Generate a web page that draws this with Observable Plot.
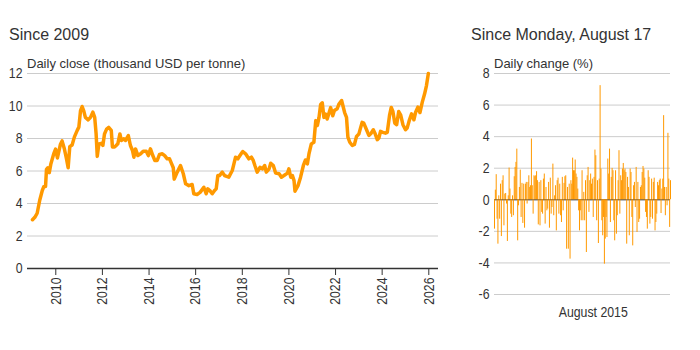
<!DOCTYPE html>
<html>
<head>
<meta charset="utf-8">
<script src="https://cdn.jsdelivr.net/npm/d3@7"></script>
<script src="https://cdn.jsdelivr.net/npm/@observablehq/plot@0.6"></script>
<style>
  html, body { margin: 0; padding: 0; background: #fff; }
  #wrap { position: relative; width: 700px; height: 350px; overflow: hidden; font-family: "Liberation Sans", Arial, sans-serif; color: #333; }
  .title { position: absolute; font-size: 16px; line-height: 16px; white-space: nowrap; }
  .sub { position: absolute; font-size: 13px; line-height: 13px; white-space: nowrap; }
  .panel { position: absolute; }
</style>
</head>
<body>
<div id="wrap">
  <div class="title" style="left:9px; top:27px;">Since 2009</div>
  <div class="title" style="left:471px; top:27px;">Since Monday, August 17</div>
  <div class="sub" style="left:27px; top:57px;">Daily close (thousand USD per tonne)</div>
  <div class="sub" style="left:494px; top:57px;">Daily change (%)</div>
  <div class="panel" id="left" style="left:0px; top:66px;"></div>
  <div class="panel" id="right" style="left:440px; top:66px;"></div>
</div>
<script>
// ---- Left panel: daily close (thousand USD per tonne), decimal year ----
const closeYears = [
  2009.00, 2009.10, 2009.20, 2009.31, 2009.42, 2009.49, 2009.56, 2009.60, 2009.66, 2009.72,
  2009.79, 2009.91, 2009.99, 2010.07, 2010.20, 2010.27, 2010.37, 2010.46, 2010.53, 2010.60,
  2010.70, 2010.80, 2010.92, 2010.99, 2011.06, 2011.13, 2011.20, 2011.27, 2011.39, 2011.49,
  2011.59, 2011.67, 2011.73, 2011.78, 2011.85, 2011.95, 2012.02, 2012.09, 2012.18, 2012.27,
  2012.38, 2012.43, 2012.52, 2012.59, 2012.66, 2012.75, 2012.81, 2012.92, 2012.99, 2013.11,
  2013.20, 2013.29, 2013.35, 2013.42, 2013.52, 2013.64, 2013.75, 2013.88, 2013.97, 2014.06,
  2014.16, 2014.25, 2014.35, 2014.45, 2014.57, 2014.67, 2014.78, 2014.88, 2014.97, 2015.04,
  2015.08, 2015.21, 2015.35, 2015.47, 2015.57, 2015.71, 2015.85, 2015.92, 2016.06, 2016.20,
  2016.35, 2016.45, 2016.52, 2016.63, 2016.71, 2016.81, 2016.88, 2016.95, 2017.02, 2017.14,
  2017.24, 2017.42, 2017.57, 2017.64, 2017.71, 2017.81, 2017.85, 2017.95, 2018.02, 2018.14,
  2018.28, 2018.39, 2018.47, 2018.54, 2018.64, 2018.76, 2018.86, 2018.96, 2019.03, 2019.15,
  2019.22, 2019.33, 2019.43, 2019.58, 2019.68, 2019.79, 2019.94, 2020.00, 2020.08, 2020.15,
  2020.22, 2020.26, 2020.39, 2020.50, 2020.62, 2020.71, 2020.79, 2020.86, 2020.96, 2021.07,
  2021.15, 2021.22, 2021.29, 2021.36, 2021.43, 2021.50, 2021.57, 2021.64, 2021.79, 2021.88,
  2021.95, 2022.07, 2022.14, 2022.26, 2022.39, 2022.47, 2022.53, 2022.61, 2022.72, 2022.81,
  2022.90, 2023.00, 2023.07, 2023.14, 2023.21, 2023.33, 2023.43, 2023.53, 2023.62, 2023.69,
  2023.79, 2023.86, 2023.93, 2024.03, 2024.14, 2024.22, 2024.32, 2024.39, 2024.46, 2024.54,
  2024.62, 2024.71, 2024.79, 2024.89, 2025.00, 2025.07, 2025.17, 2025.26, 2025.36, 2025.43,
  2025.53, 2025.62, 2025.72, 2025.82, 2025.90, 2025.98
];
const closeValues = [
  3.00, 3.15, 3.40, 4.20, 4.80, 5.05, 5.05, 6.10, 6.20, 5.90,
  6.45, 7.05, 7.35, 6.80, 7.65, 7.85, 7.35, 6.75, 6.20, 7.50,
  7.60, 8.10, 8.50, 8.70, 9.70, 9.97, 9.70, 9.30, 9.15, 9.30,
  9.62, 9.30, 8.30, 6.90, 7.67, 7.70, 7.57, 8.28, 8.58, 8.68,
  8.50, 7.48, 7.48, 7.57, 7.67, 8.28, 7.88, 7.98, 7.88, 8.18,
  7.57, 7.26, 6.85, 7.36, 6.95, 7.06, 7.22, 7.22, 6.95, 7.36,
  6.95, 6.65, 6.65, 7.02, 7.06, 6.95, 6.75, 6.75, 6.44, 6.20,
  5.50, 5.93, 6.34, 5.83, 5.21, 5.10, 5.17, 4.60, 4.55, 4.70,
  5.00, 4.60, 4.90, 4.76, 4.60, 4.80, 4.90, 5.72, 5.72, 5.93,
  5.72, 5.62, 6.03, 6.44, 6.85, 6.75, 6.85, 7.06, 7.20, 7.06,
  6.75, 6.85, 6.65, 6.34, 5.93, 6.23, 6.13, 6.34, 5.93, 6.13,
  6.48, 6.34, 5.87, 5.83, 5.62, 5.72, 5.87, 6.13, 5.62, 5.72,
  5.41, 4.76, 5.10, 5.62, 6.34, 6.68, 6.44, 7.06, 7.67, 7.77,
  9.10, 8.80, 9.30, 10.10, 10.20, 9.30, 9.50, 9.20, 9.90, 9.40,
  9.72, 9.83, 10.10, 10.34, 9.60, 9.30, 8.08, 7.77, 7.57, 7.63,
  8.13, 8.27, 8.64, 8.99, 8.95, 8.54, 8.19, 8.33, 8.54, 8.33,
  7.93, 8.03, 8.44, 8.38, 8.33, 8.38, 9.46, 9.91, 9.66, 8.95,
  8.85, 9.66, 9.46, 8.85, 8.54, 8.64, 9.15, 9.52, 9.15, 9.60,
  9.93, 9.60, 10.24, 10.75, 11.26, 12.00
];
const closeYTicks = [0, 2, 4, 6, 8, 10, 12];
const closeXTickYears = [2010, 2012, 2014, 2016, 2018, 2020, 2022, 2024, 2026];
const closeXDomainYears = [2008.786, 2026.416];

// ---- Right panel: daily change (%) ----
const changeValues = [
  -1.86, 0.61, 1.59, -1.23, -2.81, 0.25, -1.23, 0.99, -2.33, 1.21,
  1.52, -1.65, 0.36, 0.40, -0.27, -2.64, 0.25, 2.01, 0.68, -0.91,
  -1.12, 0.25, -1.01, 1.46, 2.05, 2.37, 3.21, -2.60, -0.38, 0.78,
  1.88, -1.12, 1.04, -1.50, 0.99, -1.80, 0.99, 1.10, -0.27, 1.10,
  1.52, 0.78, 0.89, 3.85, 0.89, -0.91, 1.52, 1.46, 1.52, 1.78,
  1.21, -1.59,
  1.10, -1.65, 1.21, -0.80, -0.91, 1.31, 1.63, -1.54, 0.78, -0.70,
  -0.59, 1.10, -1.80, 1.37, -0.91, -0.49, 2.26, -1.01, 0.25, 0.89,
  -1.97, 1.21, 1.37, -0.91, 0.99, -1.01, -1.44, 1.42, -0.70, 1.04,
  1.46, 1.52, -3.13, 0.78, -3.13, 0.99, -3.76, 1.21, 0.99, 2.64,
  1.84, 1.84, 2.52, 1.63, 1.42, 0.68, -0.70, -1.97, -0.70, -1.33,
  1.84, -1.33,
  0.47, -1.33, 1.21, -3.34, 1.52, 2.05, -0.80, 1.21, 1.63, 0.99,
  1.31, -1.12, 1.42, 3.15, 2.79, -1.33, 1.21, -2.77, 1.31, 7.23,
  1.95, -1.33, -2.28, -1.12, -4.08, -2.49, -1.12, -2.39, 2.58, 1.63,
  3.21, -1.44, 1.42, 1.99, 1.84, -1.33, -2.60, 1.84, -2.18, -1.01,
  1.21, 3.11, -0.91, 1.52, 1.21, 1.95, 2.30, 1.84, 1.95, 1.73,
  -2.81, 1.42,
  0.78, -2.28, 1.95, 1.73, -1.12, -2.92, 0.89, 1.10, -0.49, 2.05,
  -2.07, 1.10, -1.44, -1.23, 0.78, 0.89, 1.73, 2.11, 1.95, 1.37,
  -0.80, -1.12, -1.86, 1.84, 1.42, -1.54, -1.12, 1.31, -1.23, 1.10,
  1.37, -1.97, -1.44, -0.91, 1.10, 0.89, 1.21, 1.31, -0.87, 0.68,
  1.31, 5.33, 0.78, -1.01, 0.78, -0.38, 4.21, 1.31, -1.75, 1.21
];
const changeYTicks = [-6, -4, -2, 0, 2, 4, 6, 8];
const changeXTickIndex = 115;
const changeXTickLabel = "August 2015";

// ---- helpers ----
function yearToDate(y) {
  const yr = Math.floor(y);
  const start = Date.UTC(yr, 0, 1), end = Date.UTC(yr + 1, 0, 1);
  return new Date(start + (y - yr) * (end - start));
}
const closeData = closeYears.map((y, i) => ({date: yearToDate(y), value: closeValues[i]}));
const changeData = changeValues.map((v, i) => ({i, v}));

const ORANGE = "#ff9900";
const GRID = "#cccccc";
const INK = "#333333";
const tickFont = '"Liberation Sans", Arial, sans-serif';

// Give tick labels an Arial-Narrow look: compress glyphs via textLength (positions untouched)
function narrowTicks(svg) {
  svg.querySelectorAll('g[aria-label$="tick label"] text').forEach(t => {
    const w = t.getComputedTextLength();
    if (w > 0) {
      t.setAttribute("textLength", (w * 0.82).toFixed(2));
      t.setAttribute("lengthAdjust", "spacingAndGlyphs");
    }
  });
}

const left = Plot.plot({
  width: 445, height: 262,
  marginLeft: 27, marginRight: 7, marginTop: 7, marginBottom: 60,
  style: {fontFamily: tickFont, fontSize: "15px", color: INK, background: "transparent", overflow: "visible"},
  x: {type: "utc", domain: closeXDomainYears.map(yearToDate)},
  y: {domain: [0, 12]},
  marks: [
    Plot.gridY(closeYTicks, {stroke: GRID, strokeOpacity: 1}),
    Plot.axisY({ticks: closeYTicks, tickSize: 0, tickPadding: 5, tickFormat: d => String(d), label: null}),
    Plot.axisX({ticks: closeXTickYears.map(y => yearToDate(y)), tickSize: 7, tickPadding: 2, tickRotate: -90,
      tickFormat: d => String(d.getUTCFullYear()), label: null, stroke: INK}),
    Plot.ruleY([0], {stroke: INK, strokeWidth: 1.5}),
    Plot.lineY(closeData, {x: "date", y: "value", stroke: ORANGE, strokeWidth: 3.5, strokeLinejoin: "round"})
  ]
});
document.getElementById("left").appendChild(left);
narrowTicks(left);

const right = Plot.plot({
  width: 260, height: 258,
  marginLeft: 54, marginRight: 30, marginTop: 7, marginBottom: 30,
  style: {fontFamily: tickFont, fontSize: "15px", color: INK, background: "transparent", overflow: "visible"},
  x: {domain: [0, changeValues.length - 1]},
  y: {domain: [-6, 8]},
  marks: [
    Plot.gridY(changeYTicks, {stroke: GRID, strokeOpacity: 1}),
    Plot.axisY({ticks: changeYTicks, tickSize: 0, tickPadding: 5, tickFormat: d => String(d), label: null}),
    Plot.ruleY([0], {stroke: INK, strokeWidth: 1}),
    Plot.ruleX(changeData, {x: "i", y1: 0, y2: "v", stroke: ORANGE, strokeWidth: 1}),
    Plot.axisX({ticks: [changeXTickIndex], tickSize: 0, tickPadding: 12, tickFormat: () => changeXTickLabel, label: null})
  ]
});
document.getElementById("right").appendChild(right);
narrowTicks(right);
</script>
</body>
</html>
